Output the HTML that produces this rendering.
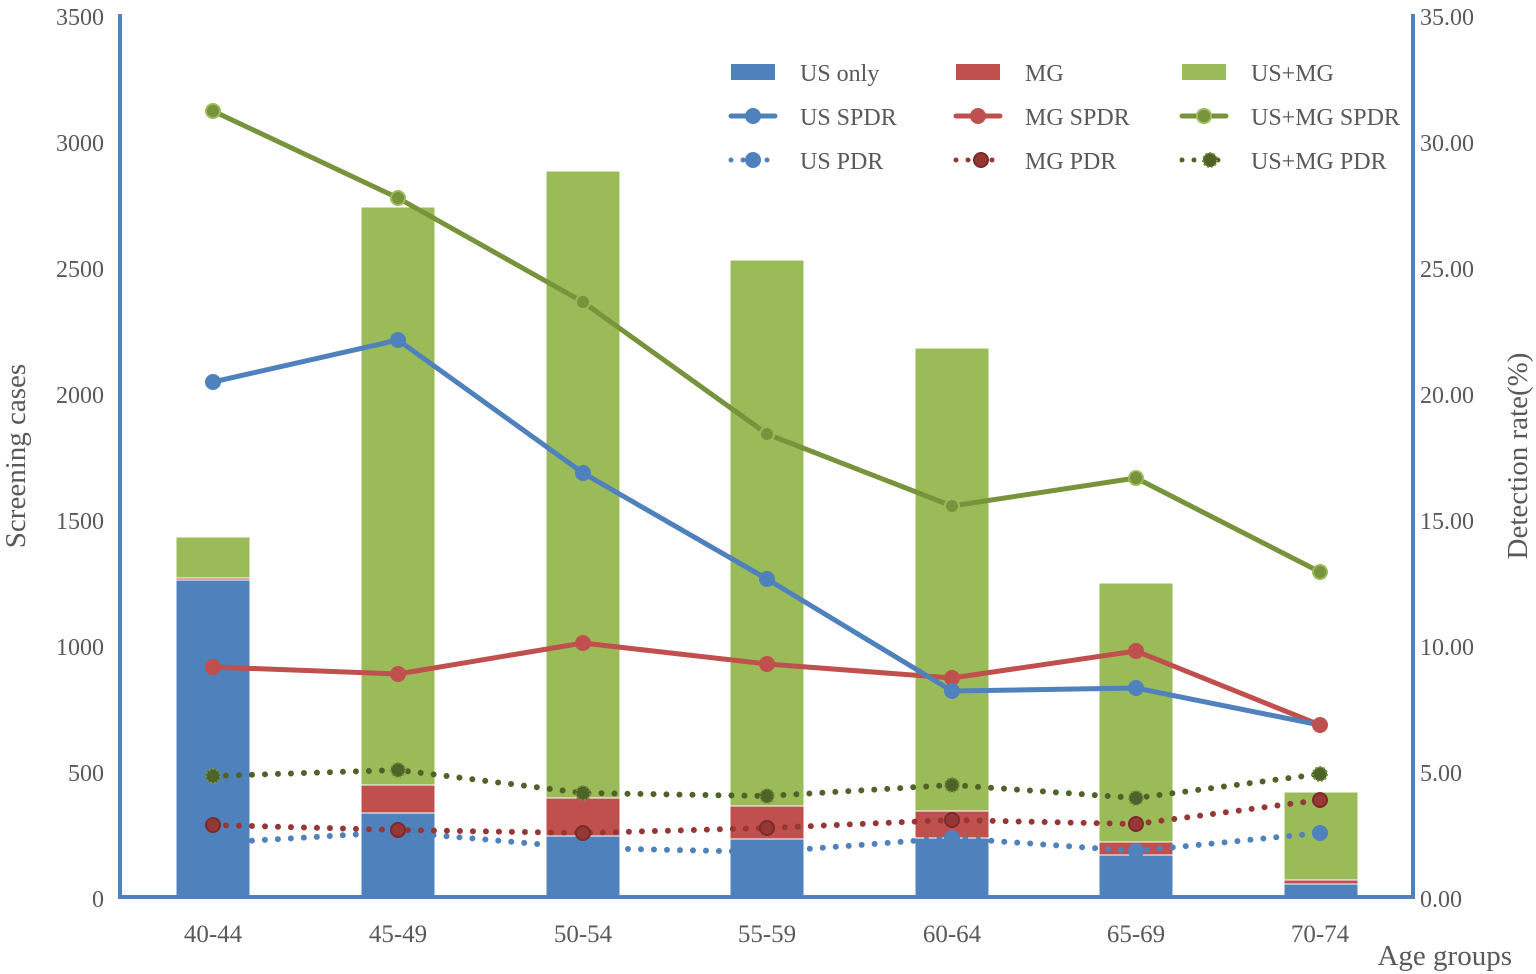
<!DOCTYPE html>
<html><head><meta charset="utf-8"><style>body{margin:0;background:#fff}svg{display:block}text{font-family:"Liberation Serif",serif;fill:#595959}</style></head><body>
<svg width="1536" height="974" viewBox="0 0 1536 974" xmlns="http://www.w3.org/2000/svg">
<g stroke="#fff" stroke-width="1">
<rect x="176" y="580" width="74" height="318" fill="#4f81bd"/><rect x="176" y="578" width="74" height="2" fill="#c0504d"/><rect x="176" y="537" width="74" height="41" fill="#9bbb59"/>
<rect x="361" y="813" width="74" height="85" fill="#4f81bd"/><rect x="361" y="785" width="74" height="28" fill="#c0504d"/><rect x="361" y="207" width="74" height="578" fill="#9bbb59"/>
<rect x="546" y="836" width="74" height="62" fill="#4f81bd"/><rect x="546" y="798" width="74" height="38" fill="#c0504d"/><rect x="546" y="171" width="74" height="627" fill="#9bbb59"/>
<rect x="730" y="839" width="74" height="59" fill="#4f81bd"/><rect x="730" y="806" width="74" height="33" fill="#c0504d"/><rect x="730" y="260" width="74" height="546" fill="#9bbb59"/>
<rect x="915" y="838" width="74" height="60" fill="#4f81bd"/><rect x="915" y="811" width="74" height="27" fill="#c0504d"/><rect x="915" y="348" width="74" height="463" fill="#9bbb59"/>
<rect x="1099" y="855" width="74" height="43" fill="#4f81bd"/><rect x="1099" y="842" width="74" height="13" fill="#c0504d"/><rect x="1099" y="583" width="74" height="259" fill="#9bbb59"/>
<rect x="1284" y="884" width="74" height="14" fill="#4f81bd"/><rect x="1284" y="880" width="74" height="4" fill="#c0504d"/><rect x="1284" y="792" width="74" height="88" fill="#9bbb59"/>
</g>
<line x1="120" y1="14" x2="120" y2="899" stroke="#4f81bd" stroke-width="4"/>
<line x1="1413" y1="14" x2="1413" y2="899" stroke="#4f81bd" stroke-width="4"/>
<line x1="118" y1="897" x2="1415" y2="897" stroke="#4f81bd" stroke-width="4"/>
<g font-size="24" text-anchor="end">
<text x="104" y="907">0</text><text x="104" y="781">500</text><text x="104" y="655">1000</text><text x="104" y="529">1500</text><text x="104" y="403">2000</text><text x="104" y="277">2500</text><text x="104" y="151">3000</text><text x="104" y="25">3500</text>
</g>
<g font-size="24" text-anchor="start">
<text x="1420" y="907">0.00</text><text x="1420" y="781">5.00</text><text x="1420" y="655">10.00</text><text x="1420" y="529">15.00</text><text x="1420" y="403">20.00</text><text x="1420" y="277">25.00</text><text x="1420" y="151">30.00</text><text x="1420" y="25">35.00</text>
</g>
<g font-size="25" text-anchor="middle">
<text x="213" y="942">40-44</text><text x="398" y="942">45-49</text><text x="583" y="942">50-54</text><text x="767" y="942">55-59</text><text x="952" y="942">60-64</text><text x="1136" y="942">65-69</text><text x="1320" y="942">70-74</text>
</g>
<text x="1512" y="965" font-size="29" text-anchor="end">Age groups</text>
<text transform="translate(25,456) rotate(-90)" font-size="29" text-anchor="middle">Screening cases</text>
<text transform="translate(1527,456) rotate(-90)" font-size="29" text-anchor="middle">Detection rate(%)</text>
<g fill="none" stroke-width="6" stroke-linecap="round" stroke-dasharray="0 13">
<polyline points="213,843 398,832 583,848 767,852 952,838 1136,851 1320,833" stroke="#4f81bd"/>
<polyline points="213,825 398,830 583,833 767,828 952,820 1136,824 1320,800" stroke="#953735"/>
<polyline points="213,776 398,770 583,793 767,796 952,785 1136,798 1320,774" stroke="#4f6228"/>
</g>
<g fill="#4f81bd"><circle cx="952" cy="838" r="8"/><circle cx="1136" cy="851" r="8"/><circle cx="1320" cy="833" r="8"/><circle cx="583" cy="848" r="6"/><circle cx="767" cy="852" r="6"/></g>
<g fill="#953735" stroke="#7b2a28" stroke-width="2"><circle cx="213" cy="825" r="7"/><circle cx="398" cy="830" r="7"/><circle cx="583" cy="833" r="7"/><circle cx="767" cy="828" r="7"/><circle cx="952" cy="820" r="7"/><circle cx="1136" cy="824" r="7"/><circle cx="1320" cy="800" r="7"/></g>
<g fill="#4f6228" stroke="#77933c" stroke-width="2" stroke-dasharray="2 2"><circle cx="213" cy="776" r="7"/><circle cx="398" cy="770" r="7"/><circle cx="583" cy="793" r="7"/><circle cx="767" cy="796" r="7"/><circle cx="952" cy="785" r="7"/><circle cx="1136" cy="798" r="7"/><circle cx="1320" cy="774" r="7"/></g>
<g fill="none" stroke-width="5" stroke-linejoin="round">
<polyline points="213,667 398,674 583,643 767,664 952,678 1136,651 1320,725" stroke="#c0504d"/>
<polyline points="213,382 398,340 583,473 767,579 952,691 1136,688 1320,725" stroke="#4f81bd"/>
<polyline points="213,111 398,198 583,302 767,434 952,506 1136,478 1320,572" stroke="#77933c"/>
</g>
<g fill="#c0504d"><circle cx="213" cy="667" r="8"/><circle cx="398" cy="674" r="8"/><circle cx="583" cy="643" r="8"/><circle cx="767" cy="664" r="8"/><circle cx="952" cy="678" r="8"/><circle cx="1136" cy="651" r="8"/><circle cx="1320" cy="725" r="8"/></g>
<g fill="#4f81bd"><circle cx="213" cy="382" r="8"/><circle cx="398" cy="340" r="8"/><circle cx="583" cy="473" r="8"/><circle cx="767" cy="579" r="8"/><circle cx="952" cy="691" r="8"/><circle cx="1136" cy="688" r="8"/></g>
<g fill="#77933c" stroke="#9bbb59" stroke-width="2"><circle cx="213" cy="111" r="7"/><circle cx="398" cy="198" r="7"/><circle cx="583" cy="302" r="7"/><circle cx="767" cy="434" r="7"/><circle cx="952" cy="506" r="7"/><circle cx="1136" cy="478" r="7"/><circle cx="1320" cy="572" r="7"/></g>
<rect x="731" y="64" width="44" height="16" fill="#4f81bd"/><rect x="956" y="64" width="44" height="16" fill="#c0504d"/><rect x="1182" y="64" width="44" height="16" fill="#9bbb59"/>
<g stroke-width="5" stroke-linecap="round"><line x1="731" y1="116" x2="775" y2="116" stroke="#4f81bd"/><line x1="956" y1="116" x2="1000" y2="116" stroke="#c0504d"/><line x1="1182" y1="116" x2="1226" y2="116" stroke="#77933c"/></g>
<circle cx="753" cy="116" r="8" fill="#4f81bd"/><circle cx="978" cy="116" r="8" fill="#c0504d"/><circle cx="1204" cy="116" r="7" fill="#77933c" stroke="#9bbb59" stroke-width="2"/>
<g stroke-width="5" stroke-linecap="round" stroke-dasharray="0 12"><line x1="731" y1="160" x2="775" y2="160" stroke="#4f81bd"/><line x1="956" y1="160" x2="1000" y2="160" stroke="#953735"/><line x1="1182" y1="160" x2="1226" y2="160" stroke="#4f6228"/></g>
<circle cx="753" cy="160" r="8" fill="#4f81bd"/><circle cx="981" cy="160" r="7" fill="#953735" stroke="#7b2a28" stroke-width="2"/><circle cx="1210" cy="160" r="7" fill="#4f6228" stroke="#77933c" stroke-width="2" stroke-dasharray="2 2"/>
<g font-size="24"><text x="800" y="81">US only</text><text x="1025" y="81">MG</text><text x="1251" y="81">US+MG</text>
<text x="800" y="125">US SPDR</text><text x="1025" y="125">MG SPDR</text><text x="1251" y="125">US+MG SPDR</text>
<text x="800" y="169">US PDR</text><text x="1025" y="169">MG PDR</text><text x="1251" y="169">US+MG PDR</text></g>
</svg>
</body></html>
